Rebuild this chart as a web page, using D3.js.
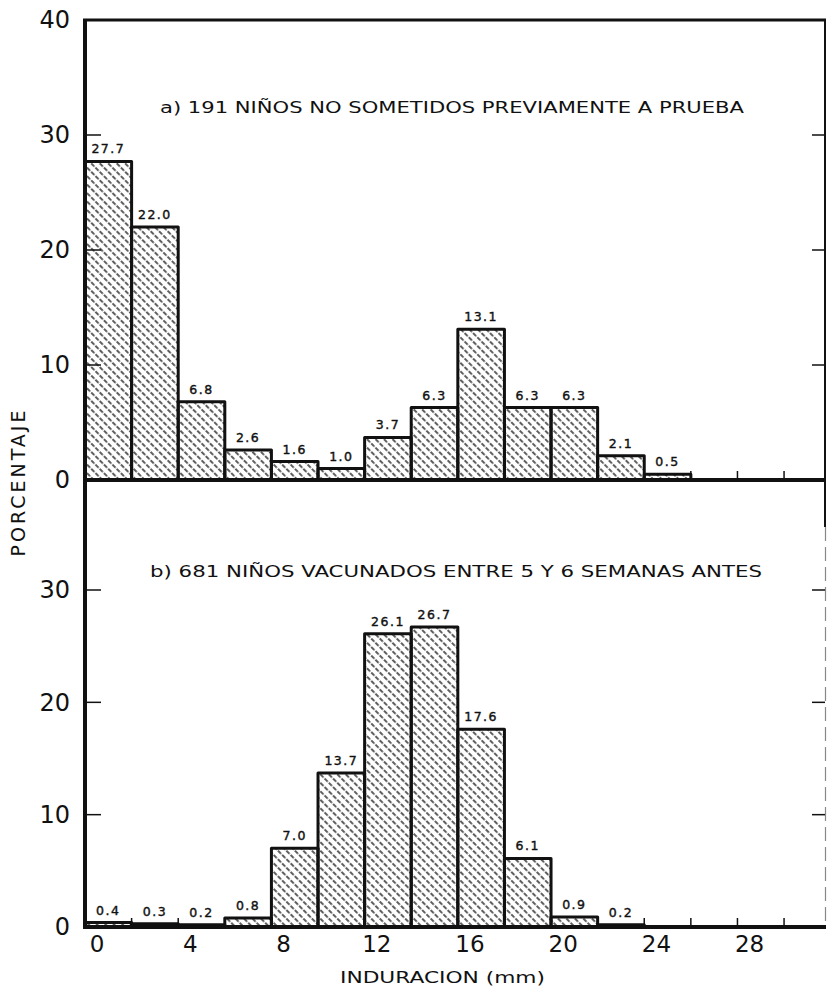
<!DOCTYPE html>
<html>
<head>
<meta charset="utf-8">
<script src="https://cdn.jsdelivr.net/npm/d3@7"></script>
<style>
  body { margin: 0; background: #fff; }
  text { font-family: "DejaVu Sans", sans-serif; fill: #111; }
</style>
</head>
<body>
<div id="chart"></div>
<script>
// bins of induration (mm), lower value of each 2 mm class
var binsTop = [0, 2, 4, 6, 8, 10, 12, 14, 16, 18, 20, 22, 24];
var pctTop = [27.7, 22.0, 6.8, 2.6, 1.6, 1.0, 3.7, 6.3, 13.1, 6.3, 6.3, 2.1, 0.5];

var binsBot = [0, 2, 4, 6, 8, 10, 12, 14, 16, 18, 20, 22];
var pctBot = [0.4, 0.3, 0.2, 0.8, 7.0, 13.7, 26.1, 26.7, 17.6, 6.1, 0.9, 0.2];

var xTicks = [0, 4, 8, 12, 16, 20, 24, 28];
var yTicksTop = [0, 10, 20, 30, 40];
var yTicksBot = [0, 10, 20, 30];
var edgeTicks = [2, 4, 6, 8, 10, 12, 14, 16, 18, 20, 22, 24, 26, 28, 30];

var titleTop = 'a) 191 NIÑOS NO SOMETIDOS PREVIAMENTE A PRUEBA';
var titleBot = 'b) 681 NIÑOS VACUNADOS ENTRE 5 Y 6 SEMANAS ANTES';

var width = 827, height = 991;
var svg = d3.select('#chart').append('svg')
    .attr('width', width)
    .attr('height', height);

// hatch
var pat = svg.append('defs').append('pattern')
    .attr('id', 'hatch')
    .attr('patternUnits', 'userSpaceOnUse')
    .attr('width', 6).attr('height', 6)
    .attr('patternTransform', 'rotate(-45)');
pat.append('line')
    .attr('x1', 3).attr('y1', 0).attr('x2', 3).attr('y2', 6)
    .attr('stroke', '#1a1a1a').attr('stroke-width', 1.4)
    .attr('stroke-dasharray', '4.5,1.5');

var x = d3.scaleLinear().domain([-0.5, 31.3]).range([85, 826]);
var yTop = d3.scaleLinear().domain([0, 40]).range([480, 20]);
var yBot = d3.scaleLinear().domain([0, 30]).range([927, 590]);
var fmt = d3.format('.1f');

// frame
svg.append('line').attr('x1', 83).attr('x2', 826).attr('y1', yTop(40)).attr('y2', yTop(40))
    .attr('stroke', '#111').attr('stroke-width', 3);
svg.append('line').attr('x1', 825).attr('x2', 825).attr('y1', yTop(40)).attr('y2', 527)
    .attr('stroke', '#111').attr('stroke-width', 2);
svg.append('line').attr('x1', 825.5).attr('x2', 825.5).attr('y1', 527).attr('y2', yBot(0))
    .attr('stroke', '#888').attr('stroke-width', 1.2).attr('stroke-dasharray', '14,6');

function panel(y, bins, vals, yTicks, title, titleY, titleX, titleLen) {
    var g = svg.append('g');

    // small ticks on the baseline at class edges
    g.selectAll('.et').data(edgeTicks).enter().append('line')
        .attr('x1', function(d) { return x(d - 0.5); })
        .attr('x2', function(d) { return x(d - 0.5); })
        .attr('y1', y(0)).attr('y2', y(0) - 9)
        .attr('stroke', '#111').attr('stroke-width', 1.5);

    // inner ticks left and right
    var inner = yTicks.filter(function(d) { return d > 0 && d < 40; });
    g.selectAll('.lt').data(inner).enter().append('line')
        .attr('x1', 84).attr('x2', 101)
        .attr('y1', function(d) { return y(d); }).attr('y2', function(d) { return y(d); })
        .attr('stroke', '#111').attr('stroke-width', 1.5);
    g.selectAll('.rt').data(inner).enter().append('line')
        .attr('x1', 812).attr('x2', 825)
        .attr('y1', function(d) { return y(d); }).attr('y2', function(d) { return y(d); })
        .attr('stroke', '#111').attr('stroke-width', 1.5);

    // bars
    g.selectAll('.bar').data(vals).enter().append('rect')
        .attr('x', function(d, i) { return x(bins[i] - 0.5); })
        .attr('width', function(d, i) { return x(bins[i] + 1.5) - x(bins[i] - 0.5); })
        .attr('y', function(d) { return y(d); })
        .attr('height', function(d) { return y(0) - y(d); })
        .attr('fill', 'url(#hatch)')
        .attr('stroke', '#111').attr('stroke-width', 3)
        .attr('stroke-linejoin', 'round');

    g.selectAll('.val').data(vals).enter().append('text')
        .attr('x', function(d, i) { return x(bins[i] + 0.5); })
        .attr('y', function(d) { return y(d) - 8; })
        .attr('text-anchor', 'middle')
        .style('font-size', '12.5px')
        .style('letter-spacing', '1.5px')
        .style('stroke', '#111').style('stroke-width', '0.4px')
        .text(function(d) { return fmt(d); });

    // baseline
    g.append('line').attr('x1', 83).attr('x2', 826).attr('y1', y(0)).attr('y2', y(0))
        .attr('stroke', '#111').attr('stroke-width', 4);

    // y labels
    var ax = g.append('g').attr('transform', 'translate(84,0)')
        .call(d3.axisLeft(y).tickValues(yTicks).tickSize(0).tickPadding(14)
            .tickFormat(d3.format('d')));
    ax.select('.domain').remove();
    ax.selectAll('text').style('font-size', '24px').style('font-family', '"DejaVu Sans", sans-serif')
        .attr('fill', '#111');

    g.append('text')
        .attr('x', titleX).attr('y', titleY)
        .attr('textLength', titleLen).attr('lengthAdjust', 'spacingAndGlyphs')
        .style('font-size', '15px')
        .text(title);
}

panel(yTop, binsTop, pctTop, yTicksTop, titleTop, 113, 160, 584);
panel(yBot, binsBot, pctBot, yTicksBot, titleBot, 577, 150, 612);

// left axis line
svg.append('line').attr('x1', 85).attr('x2', 85).attr('y1', yTop(40) - 1).attr('y2', yBot(0) + 2)
    .attr('stroke', '#111').attr('stroke-width', 4);

// x labels
var xa = svg.append('g').attr('transform', 'translate(0,' + yBot(0) + ')')
    .call(d3.axisBottom(x).tickValues(xTicks).tickSize(0).tickPadding(9));
xa.select('.domain').remove();
xa.selectAll('text').style('font-size', '23px').style('font-family', '"DejaVu Sans", sans-serif')
    .attr('fill', '#111');

svg.append('text')
    .attr('x', 340).attr('y', 983)
    .attr('textLength', 205).attr('lengthAdjust', 'spacingAndGlyphs')
    .style('font-size', '16px')
    .text('INDURACION (mm)');

svg.append('text')
    .attr('transform', 'translate(25,' + 482 + ') rotate(-90)')
    .attr('text-anchor', 'middle')
    .style('font-size', '19px')
    .style('letter-spacing', '3px')
    .text('PORCENTAJE');
</script>
</body>
</html>
